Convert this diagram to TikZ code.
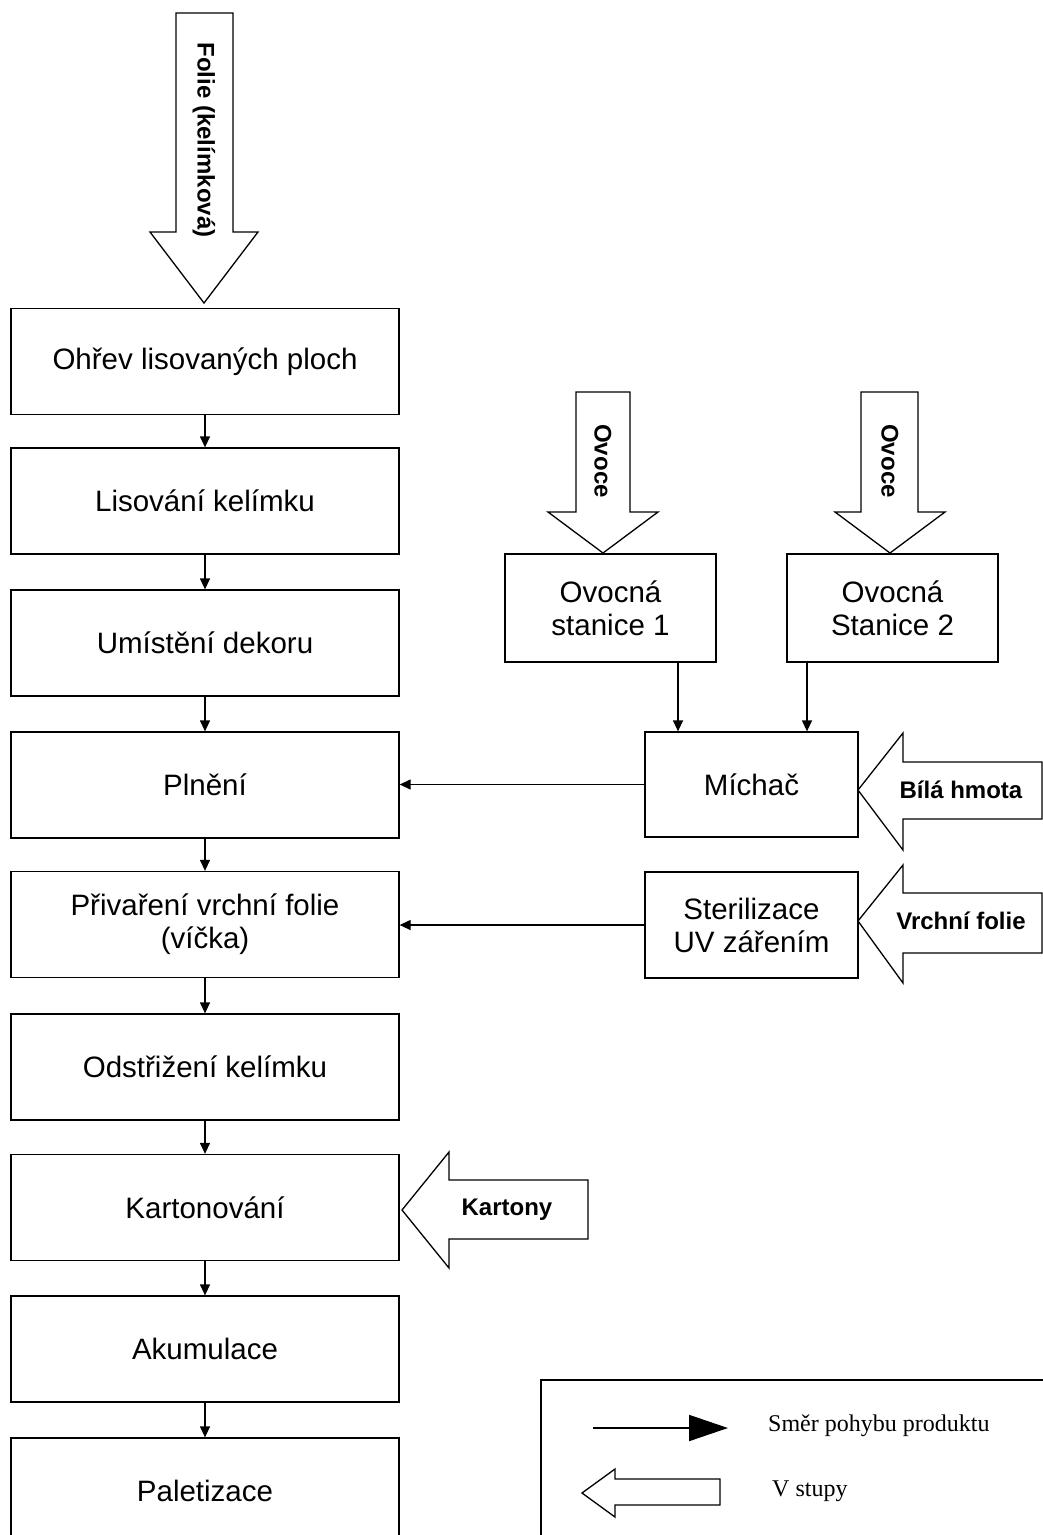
\documentclass[tikz,border=0pt]{standalone}
\usepackage{fontspec}
\setmainfont{Liberation Sans}
\newfontfamily\legfont{Liberation Serif}
\usetikzlibrary{arrows.meta}
\begin{document}
\begin{tikzpicture}[x=1pt,y=-1pt,
 box/.style={draw, line width=1.3pt, minimum width=388pt, minimum height=106pt, align=center, font=\fontsize{29.5}{33}\selectfont, inner sep=0pt},
 sbox/.style={box, minimum width=212pt, minimum height=107pt},
 flow/.style={line width=1.3pt, -{Triangle[length=11pt,width=10pt]}},
 big/.style={draw, line width=1.3pt, fill=white, line join=miter},
 blab/.style={font=\bfseries\fontsize{24}{28}\selectfont, inner sep=0pt},
 leg/.style={anchor=west, inner sep=0pt, font=\legfont\fontsize{24}{28}\selectfont}]
\useasboundingbox (0,0) rectangle (1043,1535);

% main column
\node[box] (b1) at (205,361.5) {Ohřev lisovaných ploch};
\node[box] (b2) at (205,501) {Lisování kelímku};
\node[box] (b3) at (205,643) {Umístění dekoru};
\node[box] (b4) at (205,785) {Plnění};
\node[box] (b5) at (205,924.5) {Přivaření vrchní folie\\(víčka)};
\node[box] (b6) at (205,1067) {Odstřižení kelímku};
\node[box] (b7) at (205,1207.5) {Kartonování};
\node[box] (b8) at (205,1349) {Akumulace};
\node[box] (b9) at (205,1491) {Paletizace};

\foreach \a/\b in {b1/b2,b2/b3,b3/b4,b4/b5,b5/b6,b6/b7,b7/b8,b8/b9}
  \draw[flow] (\a.south) -- (\b.north);

% right side boxes
\node[sbox, minimum width=211pt, minimum height=108pt] (s1) at (610.5,608) {Ovocná\\stanice 1};
\node[sbox, minimum width=211pt, minimum height=108pt] (s2) at (892.5,608) {Ovocná\\Stanice 2};
\node[sbox, minimum width=213pt, minimum height=105pt] (mix) at (751.5,784.5) {Míchač};
\node[sbox, minimum width=213pt, minimum height=106pt] (ster) at (751.5,925) {Sterilizace\\UV zářením};

\draw[flow] ([xshift=67.5pt]s1.south) -- ([xshift=67.5pt]s1.south |- mix.north);
\draw[flow] ([xshift=-85.5pt]s2.south) -- ([xshift=-85.5pt]s2.south |- mix.north);
\draw[flow] (mix.west) -- (mix.west -| b4.east);
\draw[flow] (ster.west) -- (ster.west -| b5.east);

% input block arrows
\draw[big] (176,13) -- (233,13) -- (233,232) -- (258,232) -- (204,303) -- (150,232) -- (176,232) -- cycle;
\node[blab, rotate=-90] (folie) at (204,140) {Folie (kelímková)};

\draw[big] (576,392) -- (630,392) -- (630,512) -- (658,512) -- (603,553) -- (548,512) -- (576,512) -- cycle;
\node[blab, rotate=-90] (ovoce1) at (603,461) {Ovoce};

\draw[big] (861,392) -- (918,392) -- (918,512) -- (945,512) -- (890,553) -- (835,512) -- (861,512) -- cycle;
\node[blab, rotate=-90] (ovoce2) at (890,461) {Ovoce};

\draw[big] (858,790) -- (903,733) -- (903,762) -- (1042,762) -- (1042,819) -- (903,819) -- (903,850) -- cycle;
\node[blab] (bila) at (961,790) {Bílá hmota};

\draw[big] (858,921) -- (903,865) -- (903,893) -- (1042,893) -- (1042,953) -- (903,953) -- (903,983) -- cycle;
\node[blab] (vrchni) at (961,921) {Vrchní folie};

\draw[big] (402,1210) -- (449,1152) -- (449,1180) -- (588,1180) -- (588,1239) -- (449,1239) -- (449,1268) -- cycle;
\node[blab] (kartony) at (507,1210) {Kartony};

% legend
\draw[line width=1.3pt] (541,1560) -- (541,1380) -- (1060,1380);
\coordinate (la) at (593,1428);
\coordinate (lb) at (728,1428);
\draw[line width=2pt, -{Triangle[length=39pt,width=26pt]}] (la) -- (lb);
\node[leg] (lt1) at (768,1426) {Směr pohybu produktu};
\draw[big] (582,1493) -- (615,1469) -- (615,1479) -- (720,1479) -- (720,1505) -- (615,1505) -- (615,1517) -- cycle;
\node[leg] (lt2) at (772,1491) {V stupy};
\end{tikzpicture}
\end{document}
